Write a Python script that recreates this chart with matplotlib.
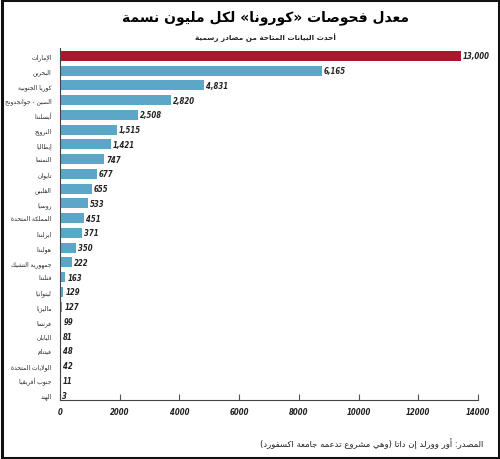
import numpy as np
import matplotlib; matplotlib.use("Agg")
import matplotlib.pyplot as plt
from matplotlib.patches import Rectangle

# data (bar lengths, printed labels as shown)
countries = ["الإمارات", "البحرين", "كوريا الجنوبية", "الصين - جوانجدونج", "أيسلندا",
             "النرويج", "إيطاليا", "النمسا", "تايوان", "الفلبين", "روسيا",
             "المملكة المتحدة", "ايرلندا", "هولندا", "جمهورية التشيك", "فنلندا",
             "ليتوانيا", "ماليزيا", "فرنسا", "اليابان", "فيتنام",
             "الولايات المتحدة", "جنوب أفريقيا", "الهند"]
bar_len = [13430, 8775, 4825, 3720, 2596, 1910, 1708, 1474, 1240, 1072, 928,
           814, 727, 536, 402, 178, 111, 77, 50, 40, 33, 27, 13, 10]
labels = ["13,000", "6,165", "4,831", "2,820", "2,508", "1,515", "1,421", "747",
          "677", "655", "533", "451", "371", "350", "222", "163", "129", "127",
          "99", "81", "48", "42", "11", "3"]
xticks = [0, 2000, 4000, 6000, 8000, 10000, 12000, 14000]

TITLE = "معدل فحوصات «كورونا» لكل مليون نسمة"
SUBTITLE = "أحدث البيانات المتاحة من مصادر رسمية"
SOURCE = "المصدر: أور وورلد إن داتا (وهي مشروع تدعمه جامعة اكسفورد)"

# minimal arabic shaping (matplotlib has no shaping / bidi)
def _f(start, n):
    return tuple(chr(start + k) for k in range(n))

FORMS = {
    "ء": _f(0xFE80, 1), "آ": _f(0xFE81, 2), "أ": _f(0xFE83, 2), "ؤ": _f(0xFE85, 2),
    "إ": _f(0xFE87, 2), "ئ": _f(0xFE89, 4), "ا": _f(0xFE8D, 2), "ب": _f(0xFE8F, 4),
    "ة": _f(0xFE93, 2), "ت": _f(0xFE95, 4), "ث": _f(0xFE99, 4), "ج": _f(0xFE9D, 4),
    "ح": _f(0xFEA1, 4), "خ": _f(0xFEA5, 4), "د": _f(0xFEA9, 2), "ذ": _f(0xFEAB, 2),
    "ر": _f(0xFEAD, 2), "ز": _f(0xFEAF, 2), "س": _f(0xFEB1, 4), "ش": _f(0xFEB5, 4),
    "ص": _f(0xFEB9, 4), "ض": _f(0xFEBD, 4), "ط": _f(0xFEC1, 4), "ظ": _f(0xFEC5, 4),
    "ع": _f(0xFEC9, 4), "غ": _f(0xFECD, 4), "ف": _f(0xFED1, 4), "ق": _f(0xFED5, 4),
    "ك": _f(0xFED9, 4), "ل": _f(0xFEDD, 4), "م": _f(0xFEE1, 4), "ن": _f(0xFEE5, 4),
    "ه": _f(0xFEE9, 4), "و": _f(0xFEED, 2), "ى": _f(0xFEEF, 2), "ي": _f(0xFEF1, 4),
}
LAMALEF = {"آ": _f(0xFEF5, 2), "أ": _f(0xFEF7, 2), "إ": _f(0xFEF9, 2), "ا": _f(0xFEFB, 2)}
MIRROR = {"(": ")", ")": "(", "«": "»", "»": "«"}

def dual(c):
    return c in FORMS and len(FORMS[c]) == 4

def ar(s):
    res, i, n = [], 0, len(s)
    while i < n:
        c = s[i]
        prev = s[i-1] if i > 0 else None
        if c == "ل" and i + 1 < n and s[i+1] in LAMALEF:
            iso, fin = LAMALEF[s[i+1]]
            res.append(fin if dual(prev) else iso)
            i += 2; continue
        if c in FORMS:
            f = FORMS[c]
            jp = dual(prev)
            jn = len(f) == 4 and i + 1 < n and s[i+1] in FORMS
            if jp and jn: res.append(f[3])
            elif jp: res.append(f[1])
            elif jn: res.append(f[2])
            else: res.append(f[0])
        else:
            res.append(c)
        i += 1
    return "".join(MIRROR.get(c, c) for c in reversed(res))

plt.rcParams["font.family"] = ["DejaVu Sans"]

fig = plt.figure(figsize=(5, 4.6), dpi=100)
ax = fig.add_axes([0.12, 0.128, 0.836, 0.7655])

y = np.arange(len(countries))
colors = ["#a8192e"] + ["#5ba7c8"] * (len(countries) - 1)
ax.barh(y, bar_len, height=0.68, color=colors)
for yi, v, lab in zip(y, bar_len, labels):
    ax.annotate(lab, (v, yi), xytext=(1.5, 0), textcoords="offset points",
                ha="left", va="center", fontsize=5.6, style="italic",
                weight="bold", stretch="condensed", color="#222222")

ax.set_ylim(23.34, -0.54)
ax.set_xlim(0, 14000)
ax.set_yticks(y)
ax.set_yticklabels([ar(c) for c in countries], fontsize=4.3, color="#222222")
ax.tick_params(axis="y", length=0, pad=6)
ax.set_xticks(xticks)
ax.set_xticklabels([str(t) for t in xticks], fontsize=5.6, style="italic",
                   weight="bold", stretch="condensed", color="#222222")
ax.tick_params(axis="x", direction="in", length=4, width=0.8, color="#555555", pad=5)
for s in ["top", "right"]:
    ax.spines[s].set_visible(False)
for s in ["left", "bottom"]:
    ax.spines[s].set_color("#444444")
    ax.spines[s].set_linewidth(0.8)

fig.text(0.53, 0.962, ar(TITLE), ha="center", va="center", fontsize=10, weight="bold")
fig.text(0.53, 0.918, ar(SUBTITLE), ha="center", va="center", fontsize=5.2, weight="bold",
         color="#222222")
fig.text(0.966, 0.033, ar(SOURCE), ha="right", va="center", fontsize=6.1, color="#222222")

fig.patches.append(Rectangle((0.003, 0.003), 0.994, 0.994, transform=fig.transFigure,
                             fill=False, lw=2.2, edgecolor="#111111"))

fig.savefig("out.png", dpi=100)
